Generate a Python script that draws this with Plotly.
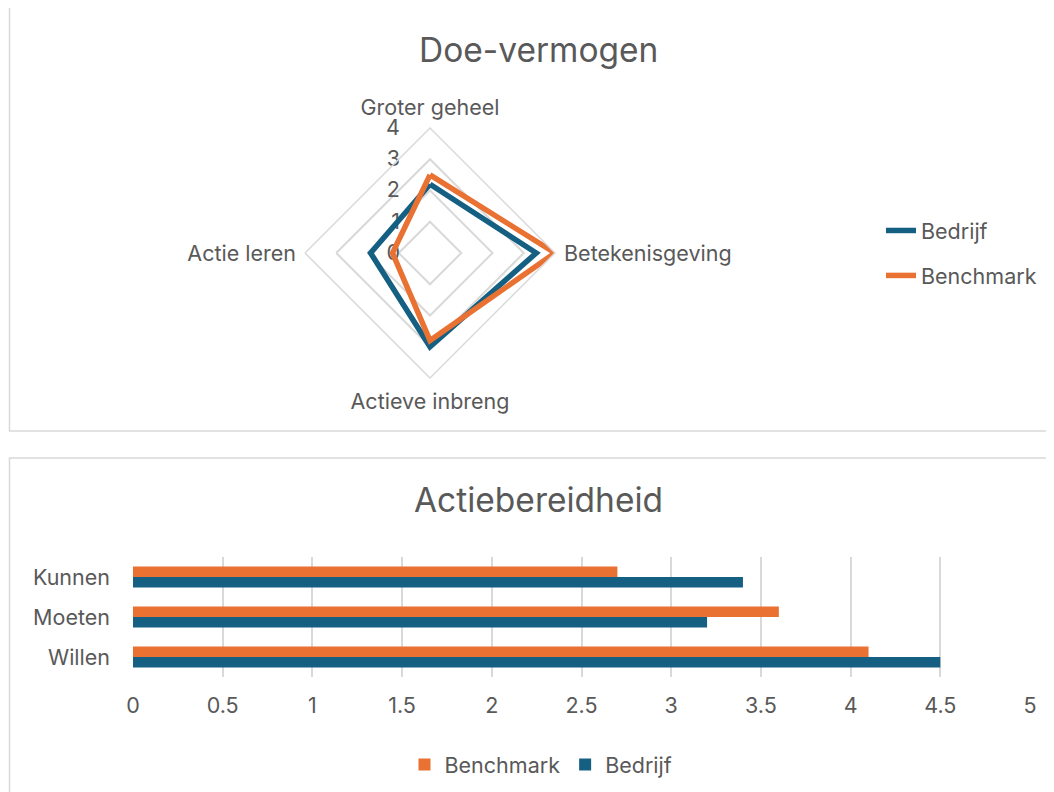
import plotly.graph_objects as go

# ---- data ----
radar_categories = ["Groter geheel", "Betekenisgeving", "Actieve inbreng", "Actie leren"]
radar_bedrijf = [2.2, 3.4, 3.0, 1.9]
radar_benchmark = [2.5, 4.0, 2.8, 1.2]

bar_categories = ["Kunnen", "Moeten", "Willen"]
bar_bedrijf = [3.4, 3.2, 4.5]
bar_benchmark = [2.7, 3.6, 4.1]

radial_ticks = [0, 1, 2, 3, 4]
x_ticks = [0, 0.5, 1, 1.5, 2, 2.5, 3, 3.5, 4, 4.5, 5]
x_ticklabels = ["0", "0.5", "1", "1.5", "2", "2.5", "3", "3.5", "4", "4.5", "5"]

BLUE = "#156082"
ORANGE = "#E97132"
TEXT = "#595959"
GRID = "#D9D9D9"
FONT = "Inter"
FS = 21.5
TFS = 33.5

W, H = 1054, 792
OFF = 8  # page body margin


def px(x):
    return (x - OFF) / W


def py(y):
    return 1 - (y - OFF) / H


fig = go.Figure()

# radar traces (closed)
fig.add_trace(go.Scatterpolar(
    r=radar_bedrijf + radar_bedrijf[:1],
    theta=radar_categories + radar_categories[:1],
    mode="lines", name="Bedrijf",
    line=dict(color=BLUE, width=5.5),
    legend="legend", legendgroup="a", subplot="polar",
))
fig.add_trace(go.Scatterpolar(
    r=radar_benchmark + radar_benchmark[:1],
    theta=radar_categories + radar_categories[:1],
    mode="lines", name="Benchmark",
    line=dict(color=ORANGE, width=5.5),
    legend="legend", legendgroup="b", subplot="polar",
))

# bar traces
fig.add_trace(go.Bar(
    y=bar_categories, x=bar_bedrijf, orientation="h", name="Bedrijf",
    marker=dict(color=BLUE, line=dict(width=0)), legend="legend2",
))
fig.add_trace(go.Bar(
    y=bar_categories, x=bar_benchmark, orientation="h", name="Benchmark",
    marker=dict(color=ORANGE, line=dict(width=0)), legend="legend2",
))

fig.update_layout(
    width=W, height=H,
    margin=dict(l=0, r=0, t=0, b=0),
    paper_bgcolor="white", plot_bgcolor="white",
    font=dict(family=FONT, color=TEXT, size=FS),
    showlegend=True,
    barmode="group", bargap=0.47, bargroupgap=0,
    polar=dict(
        domain=dict(x=[px(305), px(555)], y=[py(378), py(128)]),
        bgcolor="white",
        gridshape="linear",
        angularaxis=dict(
            rotation=90, direction="clockwise",
            showgrid=False, showline=True, linecolor=GRID, linewidth=1.5,
            ticks="outside", ticklen=4, tickcolor="rgba(0,0,0,0)",
            tickfont=dict(size=FS, color=TEXT, family=FONT),
        ),
        radialaxis=dict(
            range=[0, 4], tickvals=radial_ticks, angle=90, tickangle=90,
            showline=False, gridcolor=GRID, gridwidth=1.5,
            ticks="outside", ticklen=22, tickcolor="rgba(0,0,0,0)",
            side="counterclockwise",
            tickfont=dict(size=FS, color=TEXT, family=FONT),
            layer="below traces",
        ),
    ),
    xaxis=dict(
        domain=[px(133), px(1030)], anchor="y", automargin=False,
        range=[0, 5], tickvals=x_ticks, ticktext=x_ticklabels,
        showgrid=True, gridcolor=GRID, gridwidth=1.5,
        zeroline=False, showline=False, ticks="", ticklabelstandoff=13,
        tickfont=dict(size=FS, color=TEXT, family=FONT),
    ),
    yaxis=dict(
        domain=[py(677), py(557)], anchor="x", automargin=False,
        categoryorder="array", categoryarray=bar_categories[::-1],
        showgrid=False, zeroline=False, showline=False, ticks="",
        ticklabelstandoff=22,
        tickfont=dict(size=FS, color=TEXT, family=FONT),
    ),
    legend=dict(
        x=px(881), y=py(210), xanchor="left", yanchor="top",
        orientation="v", font=dict(size=FS, color=TEXT, family=FONT),
        bgcolor="rgba(0,0,0,0)", traceorder="grouped", tracegroupgap=14,
    ),
    legend2=dict(
        x=px(541), y=py(744), xanchor="center", yanchor="top",
        orientation="h", traceorder="reversed",
        font=dict(size=FS, color=TEXT, family=FONT),
        bgcolor="rgba(0,0,0,0)",
    ),
    annotations=[
        dict(text="Doe-vermogen", x=px(538), y=py(50), xref="paper", yref="paper",
             showarrow=False, font=dict(size=TFS, color=TEXT, family=FONT),
             xanchor="center", yanchor="middle"),
        dict(text="Actiebereidheid", x=px(538), y=py(500), xref="paper", yref="paper",
             showarrow=False, font=dict(size=TFS, color=TEXT, family=FONT),
             xanchor="center", yanchor="middle"),
    ],
    shapes=[
        dict(type="rect", xref="paper", yref="paper",
             x0=px(9.5), x1=px(1070), y0=py(431), y1=py(5),
             line=dict(color=GRID, width=1.5), layer="below"),
        dict(type="rect", xref="paper", yref="paper",
             x0=px(9.5), x1=px(1070), y0=py(810), y1=py(458),
             line=dict(color=GRID, width=1.5), layer="below"),
    ],
)

fig.write_html("out.html")
